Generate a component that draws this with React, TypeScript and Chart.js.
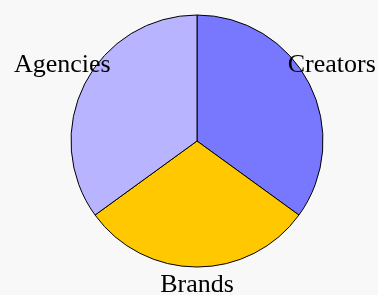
import React, { useEffect, useRef } from "react";
import { Chart, registerables } from "chart.js";

Chart.register(...registerables);

const categories = ["Creators", "Brands", "Agencies"];
const values = [35, 30, 35];
const colors = ["#7878ff", "#ffc800", "#b8b4ff"];

const labelPlugin = {
  id: "outerLabels",
  afterDatasetsDraw(chart: any) {
    const ctx = chart.ctx;
    const meta = chart.getDatasetMeta(0);
    ctx.save();
    ctx.font = "26px 'Liberation Serif', serif";
    ctx.fillStyle = "#000";
    ctx.textAlign = "center";
    ctx.textBaseline = "alphabetic";
    meta.data.forEach((arc: any, i: number) => {
      const { x, y, startAngle, endAngle, outerRadius } = arc.getProps(
        ["x", "y", "startAngle", "endAngle", "outerRadius"],
        true
      );
      const mid = (startAngle + endAngle) / 2;
      const r = outerRadius * 1.2;
      ctx.fillText(chart.data.labels[i], x + Math.cos(mid) * r, y + Math.sin(mid) * r);
    });
    ctx.restore();
  },
};

export default function App() {
  const ref = useRef<HTMLCanvasElement>(null);
  useEffect(() => {
    document.body.style.margin = "0";
    document.body.style.background = "#f8f8f8";
    const chart = new Chart(ref.current!, {
      type: "pie",
      data: {
        labels: categories,
        datasets: [
          {
            data: values,
            backgroundColor: colors,
            borderColor: "#000",
            borderWidth: 1,
          },
        ],
      },
      options: {
        animation: false,
        responsive: false,
        radius: 126,
        layout: { padding: { top: 15, bottom: 28, left: 71, right: 55 } },
        plugins: { legend: { display: false }, tooltip: { enabled: false } },
      },
      plugins: [labelPlugin],
    });
    return () => chart.destroy();
  }, []);
  return (
    <div style={{ width: 378, height: 295, background: "#f8f8f8" }}>
      <canvas ref={ref} width={378} height={295} style={{ display: "block" }} />
    </div>
  );
}
